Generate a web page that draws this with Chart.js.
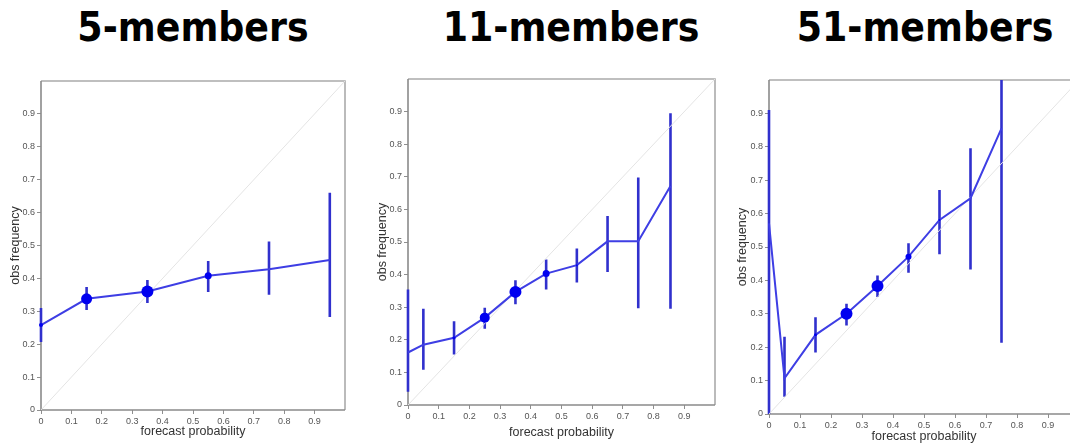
<!DOCTYPE html>
<html>
<head>
<meta charset="utf-8">
<script src="https://cdn.jsdelivr.net/npm/chart.js@4.4.1/dist/chart.umd.min.js"></script>
<style>
  html, body { margin: 0; padding: 0; background: #fff; width: 1070px; height: 443px; overflow: hidden; position: relative; }
  .title { position: absolute; top: 7px; font: bold 36.4px "DejaVu Sans", Verdana, sans-serif; line-height: 36px; color: #000;
           white-space: nowrap; transform-origin: 50% 0; transform: translateX(-50%) scaleY(1.12); }
  canvas { position: absolute; }
</style>
</head>
<body>
<div class="title" style="left:193px">5-members</div>
<div class="title" style="left:571px">11-members</div>
<div class="title" style="left:925px">51-members</div>

<canvas id="p5" width="360" height="373" style="left:0px;top:70px"></canvas>
<canvas id="p11" width="360" height="373" style="left:360px;top:70px"></canvas>
<canvas id="p51" width="360" height="373" style="left:720px;top:70px"></canvas>

<script>
// Reliability data: forecast probability bins, observed frequency, and the
// lower / upper ends of each vertical uncertainty bar.
const prob5 = [0, 0.15, 0.35, 0.55, 0.75, 0.95];
const obs5  = [0.258, 0.338, 0.36, 0.408, 0.428, 0.456];
const lo5   = [0.207, 0.304, 0.325, 0.359, 0.35, 0.283];
const hi5   = [0.31, 0.374, 0.395, 0.453, 0.512, 0.66];

const prob11 = [0, 0.05, 0.15, 0.25, 0.35, 0.45, 0.55, 0.65, 0.75, 0.855];
const obs11  = [0.161, 0.185, 0.206, 0.268, 0.347, 0.403, 0.429, 0.502, 0.502, 0.672];
const lo11   = [0.041, 0.108, 0.155, 0.234, 0.309, 0.354, 0.376, 0.408, 0.297, 0.295];
const hi11   = [0.354, 0.295, 0.257, 0.298, 0.383, 0.446, 0.48, 0.58, 0.698, 0.895];

const prob51 = [0, 0.05, 0.15, 0.25, 0.35, 0.45, 0.55, 0.65, 0.75];
const obs51  = [0.571, 0.107, 0.237, 0.30, 0.383, 0.471, 0.581, 0.646, 0.855];
const lo51   = [0, 0.052, 0.184, 0.265, 0.35, 0.423, 0.478, 0.433, 0.213];
const hi51   = [0.91, 0.231, 0.29, 0.33, 0.415, 0.511, 0.671, 0.796, 1.0];

const axisTicks = [0, 0.1, 0.2, 0.3, 0.4, 0.5, 0.6, 0.7, 0.8, 0.9];

// Frame around the plot area plus the vertical uncertainty bars.
const reliabilityDecor = {
  id: 'reliabilityDecor',
  beforeDatasetsDraw(chart, args, opts) {
    const { ctx, chartArea: a, scales: { x, y } } = chart;
    ctx.save();
    ctx.lineWidth = 1.6;
    ctx.strokeStyle = '#ababab';
    ctx.beginPath();
    ctx.moveTo(a.left, a.top); ctx.lineTo(a.right, a.top); ctx.lineTo(a.right, a.bottom);
    ctx.stroke();
    ctx.strokeStyle = '#8a8a8a';
    ctx.beginPath();
    ctx.moveTo(a.left, a.top); ctx.lineTo(a.left, a.bottom); ctx.lineTo(a.right, a.bottom);
    ctx.stroke();

    ctx.strokeStyle = 'rgb(48,48,205)';
    ctx.lineWidth = 2.6;
    ctx.lineCap = 'butt';
    ctx.beginPath();
    opts.prob.forEach((p, i) => {
      const px = x.getPixelForValue(p);
      ctx.moveTo(px, y.getPixelForValue(opts.lo[i]));
      ctx.lineTo(px, y.getPixelForValue(opts.hi[i]));
    });
    ctx.stroke();
    ctx.restore();
  }
};

function makePanel(id, prob, obs, lo, hi, look) {
  const pts = prob.map((p, i) => ({ x: p, y: obs[i] }));
  const tickFont = { family: '"Liberation Sans", Arial, sans-serif', size: 9 };
  const titleFont = { family: '"Liberation Sans", Arial, sans-serif', size: 12.5, lineHeight: 1 };
  const fixTicks = (s) => { s.ticks = axisTicks.map(v => ({ value: v })); };
  const noPad = (s) => { s.paddingLeft = s.paddingRight = s.paddingTop = s.paddingBottom = 0; };

  new Chart(document.getElementById(id), {
    type: 'scatter',
    data: {
      datasets: [
        {
          data: pts,
          showLine: true,
          borderColor: 'rgb(62,62,228)',
          borderWidth: 2,
          pointRadius: look.radius,
          pointBackgroundColor: '#0000f0',
          pointBorderWidth: 0,
          pointHoverRadius: look.radius,
          clip: false
        },
        {
          data: [{ x: 0, y: 0 }, { x: 1, y: 1 }],
          showLine: true,
          borderColor: '#e4e4e4',
          borderWidth: 1,
          pointRadius: 0
        }
      ]
    },
    options: {
      responsive: false,
      animation: false,
      events: [],
      layout: { padding: { top: look.padTop, right: look.padRight, left: 0, bottom: 0 } },
      plugins: {
        legend: { display: false },
        tooltip: { enabled: false },
        reliabilityDecor: { prob, lo, hi }
      },
      scales: {
        x: {
          type: 'linear', min: 0, max: 1,
          afterBuildTicks: fixTicks,
          afterFit: (s) => { s.height = look.xHeight; noPad(s); },
          border: { display: false },
          grid: { display: true, drawOnChartArea: false, drawTicks: true, tickLength: 4, color: '#8f8f8f', lineWidth: 1 },
          ticks: { font: tickFont, color: '#555', padding: 2, maxRotation: 0, autoSkip: false,
                   callback: (v) => String(Math.round(v * 10) / 10) },
          title: { display: true, text: 'forecast probability', font: titleFont, color: '#333',
                   padding: { top: 0, bottom: look.xTitlePad } }
        },
        y: {
          type: 'linear', min: 0, max: 1,
          afterBuildTicks: fixTicks,
          afterFit: (s) => { s.width = look.yWidth; noPad(s); },
          border: { display: false },
          grid: { display: true, drawOnChartArea: false, drawTicks: true, tickLength: 4, color: '#8f8f8f', lineWidth: 1 },
          ticks: { font: tickFont, color: '#555', padding: 2, autoSkip: false,
                   callback: (v) => String(Math.round(v * 10) / 10) },
          title: { display: true, text: 'obs frequency', font: titleFont, color: '#333',
                   padding: { top: look.yTitlePad, bottom: 0 } }
        }
      }
    },
    plugins: [reliabilityDecor]
  });
}

makePanel('p5', prob5, obs5, lo5, hi5, {
  radius: [2, 5.5, 6, 3.5, 0, 0],
  padTop: 11, padRight: 15, xHeight: 33, yWidth: 41, xTitlePad: 4.75, yTitlePad: 9.75
});
makePanel('p11', prob11, obs11, lo11, hi11, {
  radius: [0, 0, 1.5, 5, 6, 3.5, 1, 0, 0, 0],
  padTop: 9, padRight: 5, xHeight: 38, yWidth: 48, xTitlePad: 3.75, yTitlePad: 16.75
});
makePanel('p51', prob51, obs51, lo51, hi51, {
  radius: [0, 0, 1.5, 6, 6, 3, 1, 0, 0],
  padTop: 10, padRight: 1, xHeight: 29, yWidth: 49, xTitlePad: 0, yTitlePad: 16.75
});
</script>
</body>
</html>
